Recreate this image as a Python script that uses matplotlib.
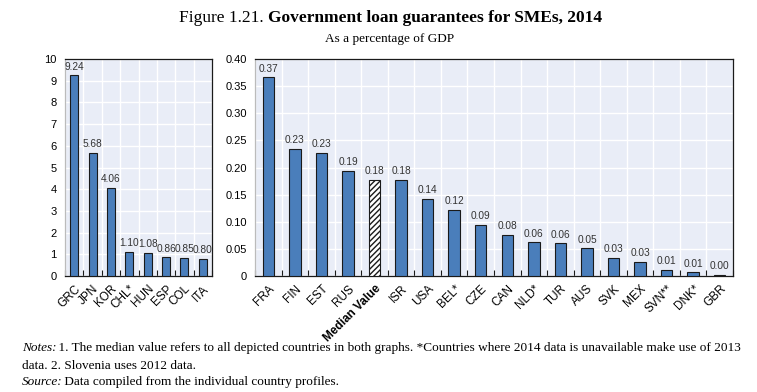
import matplotlib
matplotlib.use("Agg")
import matplotlib.pyplot as plt
from matplotlib import font_manager
import numpy as np

left_cats = ["GRC", "JPN", "KOR", "CHL*", "HUN", "ESP", "COL", "ITA"]
left_vals = [9.24, 5.68, 4.06, 1.10, 1.08, 0.86, 0.85, 0.80]

right_cats = ["FRA", "FIN", "EST", "RUS", "Median Value", "ISR", "USA", "BEL*", "CZE",
              "CAN", "NLD*", "TUR", "AUS", "SVK", "MEX", "SVN**", "DNK*", "GBR"]
right_vals = [0.366, 0.234, 0.227, 0.194, 0.177, 0.177, 0.142, 0.122, 0.094,
              0.076, 0.062, 0.060, 0.051, 0.034, 0.026, 0.011, 0.007, 0.002]

left_ticks = list(range(0, 11))
right_ticks = [0, 0.05, 0.10, 0.15, 0.20, 0.25, 0.30, 0.35, 0.40]
right_tick_labels = ["0", "0.05", "0.10", "0.15", "0.20", "0.25", "0.30", "0.35", "0.40"]

BAR = "#4a7ebb"
BG = "#e9edf7"
names = {f.name for f in font_manager.fontManager.ttflist}
FONT = "Liberation Sans Narrow" if "Liberation Sans Narrow" in names else "Liberation Sans"
SERIF = "Liberation Serif"
W, H = 757, 392

fig = plt.figure(figsize=(W / 100, H / 100), dpi=100)

def ax_rect(x0, y0, x1, y1):
    return [x0 / W, 1 - y1 / H, (x1 - x0) / W, (y1 - y0) / H]

axL = fig.add_axes(ax_rect(65, 59, 212, 276))
axR = fig.add_axes(ax_rect(255, 59, 733, 276))

def style(ax, cats, vals, ylim, yticks, ylabels, fmt, median_idx=None):
    ax.set_facecolor(BG)
    x = np.arange(len(cats))
    bars = ax.bar(x, vals, width=0.43, color=BAR, edgecolor="#1a1a1a", linewidth=0.8, zorder=3)
    if median_idx is not None:
        b = bars[median_idx]
        b.set_facecolor("white")
        b.set_hatch("//////")
    for xi, v in zip(x, vals):
        ax.text(xi, v + ylim * 0.017, fmt(v), ha="center", va="bottom", fontsize=7.3,
                color="#333333", family=FONT, zorder=4)
    ax.set_xlim(-0.5, len(cats) - 0.5)
    ax.set_ylim(0, ylim)
    ax.set_yticks(yticks)
    ax.set_yticklabels(ylabels, fontsize=8, family=FONT)
    ax.set_xticks(x)
    labels = ax.set_xticklabels(cats, rotation=45, ha="right", rotation_mode="anchor",
                                fontsize=8.5, family=FONT)
    for lab in labels:
        if lab.get_text() == "Median Value":
            lab.set_fontweight("bold")
    ax.tick_params(axis="x", which="major", length=0, pad=5)
    ax.tick_params(axis="y", length=0, pad=6)
    ax.set_xticks(np.arange(len(cats) + 1) - 0.5, minor=True)
    ax.tick_params(axis="x", which="minor", direction="in", length=4, width=0.8, color="#1a1a1a")
    ax.grid(True, which="minor", axis="x", color="white", linewidth=1.0, zorder=0)
    ax.grid(True, which="major", axis="y", color="white", linewidth=1.0, zorder=0)
    ax.set_axisbelow(True)
    for s in ax.spines.values():
        s.set_color("#1a1a1a")
        s.set_linewidth(0.9)
    ax.spines["left"].set_color("#bbbbbb")

style(axL, left_cats, left_vals, 10, left_ticks, [str(t) for t in left_ticks],
      lambda v: f"{v:.2f}")
style(axR, right_cats, right_vals, 0.40, right_ticks, right_tick_labels,
      lambda v: f"{v:.2f}", median_idx=4)

tx = 268 / W
fig.text(tx, 1 - 18 / H, "Figure 1.21. ", ha="right", va="center", fontsize=12.5, family=SERIF)
fig.text(tx, 1 - 18 / H, "Government loan guarantees for SMEs, 2014", ha="left",
         va="center", fontsize=12.5, family=SERIF, fontweight="bold")
fig.text(390 / W, 1 - 39 / H, "As a percentage of GDP", ha="center", va="center", fontsize=9.5,
         family=SERIF)

fig.canvas.draw()
renderer = fig.canvas.get_renderer()

def line(y, parts):
    x = 22
    for txt, style_ in parts:
        t = fig.text(x / W, 1 - y / H, txt, ha="left", va="center", fontsize=9.5,
                     family=SERIF, style=style_)
        bb = t.get_window_extent(renderer)
        x += bb.width - 2

line(348, [("Notes:", "italic"),
           (" 1. The median value refers to all depicted countries in both graphs. *Countries where 2014 data is unavailable make use of 2013", "normal")])
line(366, [("data. 2. Slovenia uses 2012 data.", "normal")])
line(382, [("Source:", "italic"), (" Data compiled from the individual country profiles.", "normal")])

fig.savefig("out.png", dpi=100)
